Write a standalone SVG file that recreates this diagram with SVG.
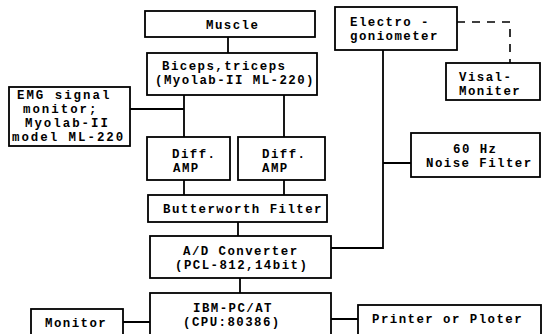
<svg xmlns="http://www.w3.org/2000/svg" width="543" height="334" viewBox="0 0 543 334">
<style>
rect{fill:#fff;stroke:#000;stroke-width:1.8}
text{font-family:"Liberation Mono","DejaVu Sans Mono",monospace;font-weight:bold;font-size:12.4px;letter-spacing:1.45px;fill:#000}
.w{letter-spacing:2px}
.c{fill:none;stroke:#000;stroke-width:1.8}
.d{fill:none;stroke:#000;stroke-width:1.6;stroke-dasharray:8 7}
</style>
<rect x="0" y="0" width="543" height="334" style="stroke:none"/>
<g id="connectors">
<path class="c" d="M228 37V53"/>
<path class="c" d="M184 95V137M284 95V137M130 109H184"/>
<path class="c" d="M184 180V195M284 180V195"/>
<path class="c" d="M238 222V236M240 278V293"/>
<path class="c" d="M383 50V248H331M383 163H411"/>
<path class="c" d="M123 322H150M331 319H358"/>
<path class="d" d="M457 22H510V63"/>
</g>
<g id="muscle"><rect x="145" y="11" width="170" height="26"/><text x="206" y="29">Muscle</text></g>
<g id="biceps"><rect x="147" y="53" width="170" height="42"/><text x="162" y="70">Biceps,triceps</text><text x="155" y="84">(Myolab-II ML-220)</text></g>
<g id="emg"><rect x="9" y="87" width="121" height="59"/><text class="w" x="17" y="99">EMG signal</text><text class="w" x="23" y="113">monitor;</text><text class="w" x="25" y="127">Myolab-II</text><text class="w" x="12" y="141">model ML-220</text></g>
<g id="diff1"><rect x="147" y="137" width="83" height="43"/><text x="172" y="158">Diff.</text><text x="173" y="172">AMP</text></g>
<g id="diff2"><rect x="238" y="137" width="87" height="43"/><text x="262" y="158">Diff.</text><text x="262" y="172">AMP</text></g>
<g id="butterworth"><rect x="148" y="195" width="179" height="27"/><text x="163" y="213">Butterworth Filter</text></g>
<g id="adc"><rect x="150" y="236" width="181" height="42"/><text x="183" y="255">A/D Converter</text><text x="175" y="269">(PCL-812,14bit)</text></g>
<g id="ibm"><rect x="150" y="293" width="181" height="50"/><text x="193" y="312">IBM-PC/AT</text><text x="183" y="326">(CPU:80386)</text></g>
<g id="monitor"><rect x="31" y="309" width="92" height="34"/><text x="45" y="327">Monitor</text></g>
<g id="printer"><rect x="358" y="305" width="183" height="38"/><text x="372" y="323">Printer or Ploter</text></g>
<g id="electro"><rect x="335" y="7" width="122" height="43"/><text x="350" y="26">Electro -</text><text x="350" y="40">goniometer</text></g>
<g id="visal"><rect x="446" y="63" width="94" height="37"/><text x="459" y="81">Visal-</text><text x="459" y="95">Moniter</text></g>
<g id="noise"><rect x="411" y="133" width="129" height="44"/><text x="453" y="153">60 Hz</text><text x="426" y="167">Noise Filter</text></g>
</svg>
